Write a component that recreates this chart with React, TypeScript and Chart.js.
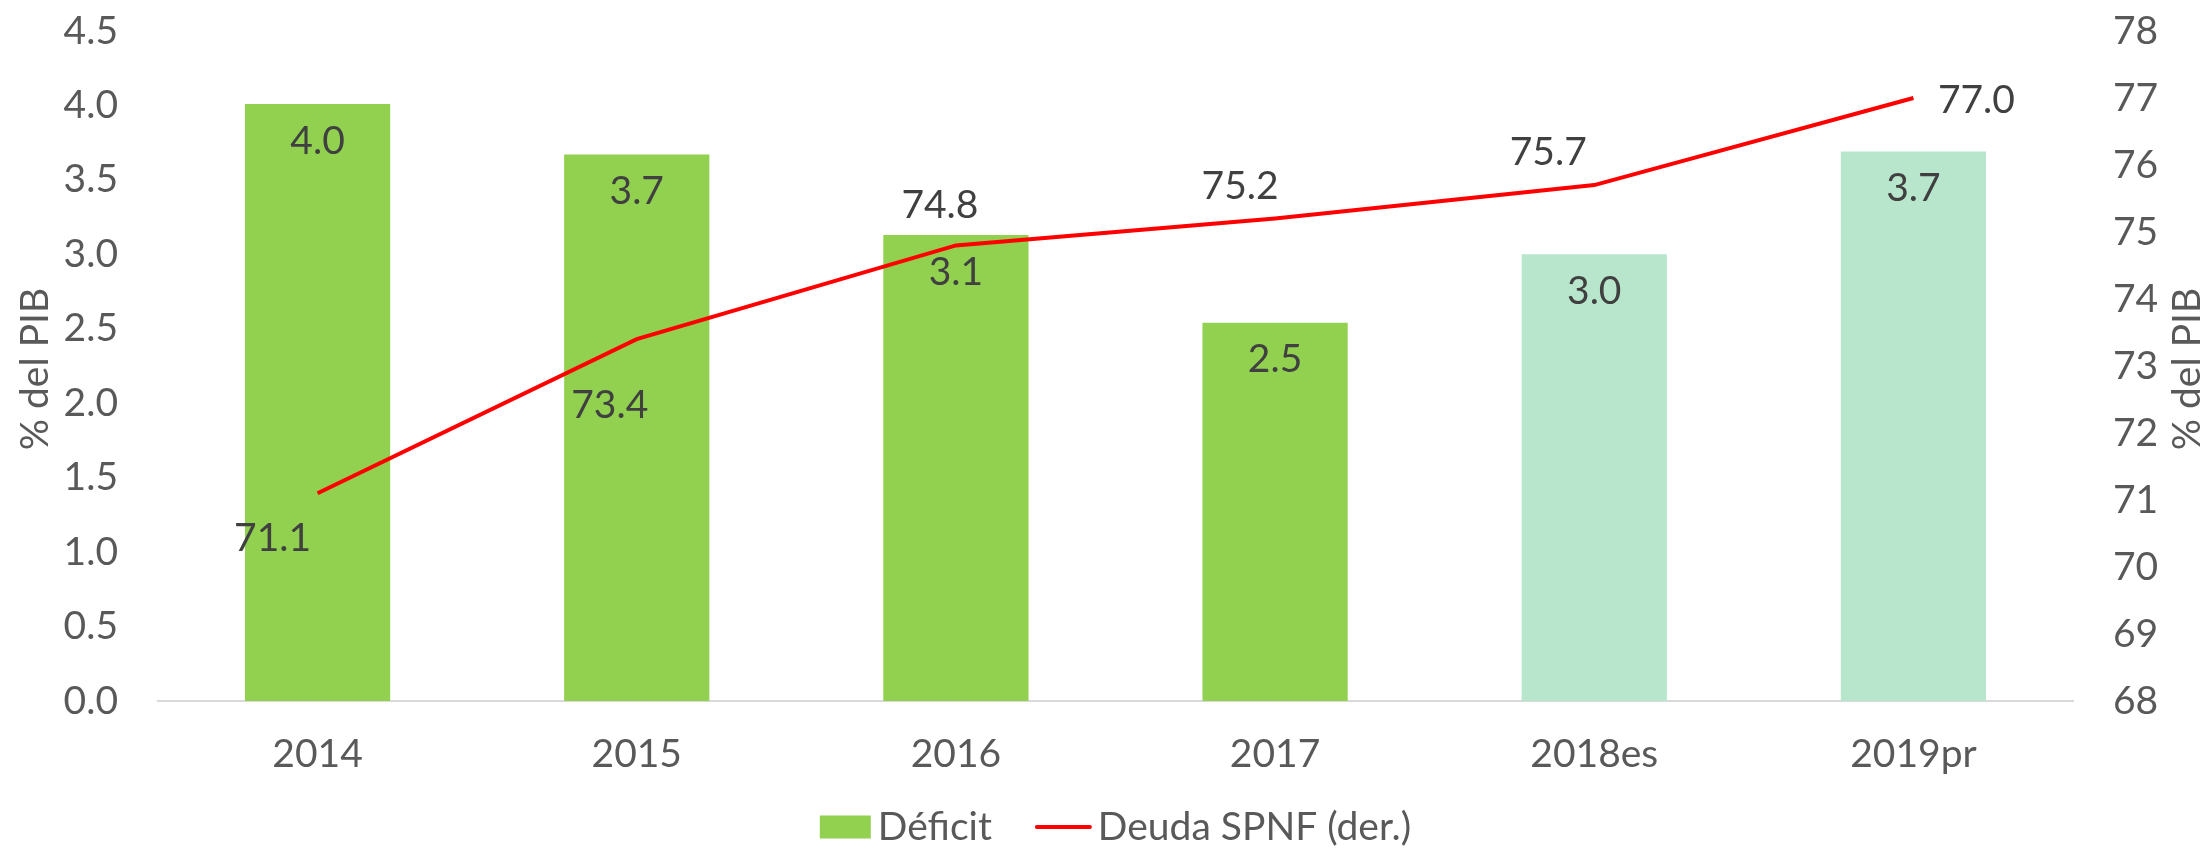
import React, { useEffect, useRef } from 'react';
import { Chart, registerables } from 'chart.js';

Chart.register(...registerables);

const categories = ['2014', '2015', '2016', '2017', '2018es', '2019pr'];
const deficitValues = [4.01, 3.67, 3.13, 2.54, 3.0, 3.69];
const debtValues = [71.1, 73.4, 74.8, 75.2, 75.7, 77.0];
const leftAxisRange = [0, 4.5, 0.5];
const rightAxisRange = [68, 78, 1];
const seriesNames = ['Déficit', 'Deuda SPNF (der.)'];
const axisTitle = '% del PIB';

const GREEN = '#92D050';
const MINT = '#B8E6CC';
const RED = '#FF0000';
const TEXT = '#595959';
const LABEL = '#404040';
const FONT = 'Lato, "Open Sans", sans-serif';
const FS = 39;

const barColors = categories.map((c) => (/es|pr/.test(c) ? MINT : GREEN));
// offsets of the line value labels relative to their point (style only)
const lineLabelOffsets = [
  [-45, 45],
  [-27, 66],
  [-16, -40],
  [-35, -32],
  [-46, -33],
  [63, 2],
];

const labelsPlugin = {
  id: 'customLabels',
  afterDatasetsDraw(chart: any) {
    const ctx = chart.ctx;
    ctx.save();
    ctx.font = `${FS}px ${FONT}`;
    ctx.fillStyle = LABEL;
    ctx.textAlign = 'center';
    ctx.textBaseline = 'middle';
    const barMeta = chart.getDatasetMeta(1);
    barMeta.data.forEach((el: any, i: number) => {
      ctx.fillText(deficitValues[i].toFixed(1), el.x, el.y + 37);
    });
    const lineMeta = chart.getDatasetMeta(0);
    lineMeta.data.forEach((el: any, i: number) => {
      const [dx, dy] = lineLabelOffsets[i];
      ctx.fillText(debtValues[i].toFixed(1), el.x + dx, el.y + dy);
    });
    ctx.restore();
  },
  afterDraw(chart: any) {
    const ctx = chart.ctx;
    const area = chart.chartArea;
    ctx.save();
    ctx.font = `${FS}px ${FONT}`;
    ctx.fillStyle = TEXT;
    ctx.textAlign = 'center';
    ctx.textBaseline = 'middle';
    const cy = (area.top + area.bottom) / 2 + 3;
    [35, 2187].forEach((x) => {
      ctx.save();
      ctx.translate(x, cy);
      ctx.rotate(-Math.PI / 2);
      ctx.fillText(axisTitle, 0, 0);
      ctx.restore();
    });
    ctx.textAlign = 'left';
    const boxW = 51;
    const boxH = 23;
    const lineW = 53;
    const gap = 7;
    const itemGap = 45;
    const w0 = ctx.measureText(seriesNames[0]).width;
    const w1 = ctx.measureText(seriesNames[1]).width;
    const total = boxW + gap + w0 + itemGap + lineW + gap + 1 + w1;
    let x = (area.left + area.right) / 2 - total / 2;
    const y = 827;
    ctx.fillStyle = GREEN;
    ctx.fillRect(x, y - boxH / 2, boxW, boxH);
    x += boxW + gap;
    ctx.fillStyle = TEXT;
    ctx.fillText(seriesNames[0], x, y);
    x += w0 + itemGap;
    ctx.strokeStyle = RED;
    ctx.lineWidth = 4;
    ctx.lineCap = 'round';
    ctx.beginPath();
    ctx.moveTo(x, y);
    ctx.lineTo(x + lineW, y);
    ctx.stroke();
    x += lineW + gap + 1;
    ctx.fillText(seriesNames[1], x, y);
    ctx.restore();
  },
};

export default function App() {
  const ref = useRef<HTMLCanvasElement | null>(null);
  useEffect(() => {
    document.body.style.margin = '0';
    const canvas = ref.current;
    if (!canvas) return;
    const yGrid = { display: false, drawTicks: true, tickLength: 40, color: 'rgba(0,0,0,0)' };
    const chart = new Chart(canvas, {
      type: 'bar',
      data: {
        labels: categories,
        datasets: [
          {
            type: 'line',
            label: seriesNames[1],
            data: debtValues,
            yAxisID: 'y1',
            borderColor: RED,
            backgroundColor: RED,
            borderWidth: 4,
            pointRadius: 0,
            tension: 0,
            order: 0,
          } as any,
          {
            type: 'bar',
            label: seriesNames[0],
            data: deficitValues,
            yAxisID: 'y',
            backgroundColor: barColors,
            borderWidth: 0,
            categoryPercentage: 1,
            barPercentage: 0.455,
            order: 1,
          },
        ],
      },
      options: {
        responsive: false,
        animation: false,
        layout: { padding: { top: 31, bottom: 69, left: 0, right: 0 } },
        plugins: {
          legend: { display: false },
          tooltip: { enabled: false },
          title: { display: false },
        },
        scales: {
          x: {
            grid: { display: false, drawTicks: false },
            border: { display: true, color: '#D9D9D9', width: 2 },
            ticks: {
              color: TEXT,
              font: { family: FONT, size: FS },
              padding: 30,
              maxRotation: 0,
            },
            afterFit: (s: any) => {
              s.height = 80;
            },
          },
          y: {
            position: 'left',
            min: leftAxisRange[0],
            max: leftAxisRange[1],
            grid: yGrid,
            border: { display: false },
            ticks: {
              stepSize: leftAxisRange[2],
              color: TEXT,
              font: { family: FONT, size: FS },
              padding: 0,
              callback: (v: any) => Number(v).toFixed(1),
            },
            afterFit: (s: any) => {
              s.width = 158;
            },
          },
          y1: {
            position: 'right',
            min: rightAxisRange[0],
            max: rightAxisRange[1],
            grid: yGrid,
            border: { display: false },
            ticks: {
              stepSize: rightAxisRange[2],
              color: TEXT,
              font: { family: FONT, size: FS },
              padding: 0,
            },
            afterFit: (s: any) => {
              s.width = 138;
            },
          },
        },
      },
      plugins: [labelsPlugin],
    });
    return () => chart.destroy();
  }, []);
  return <canvas ref={ref} width={2211} height={850} style={{ display: 'block' }} />;
}
